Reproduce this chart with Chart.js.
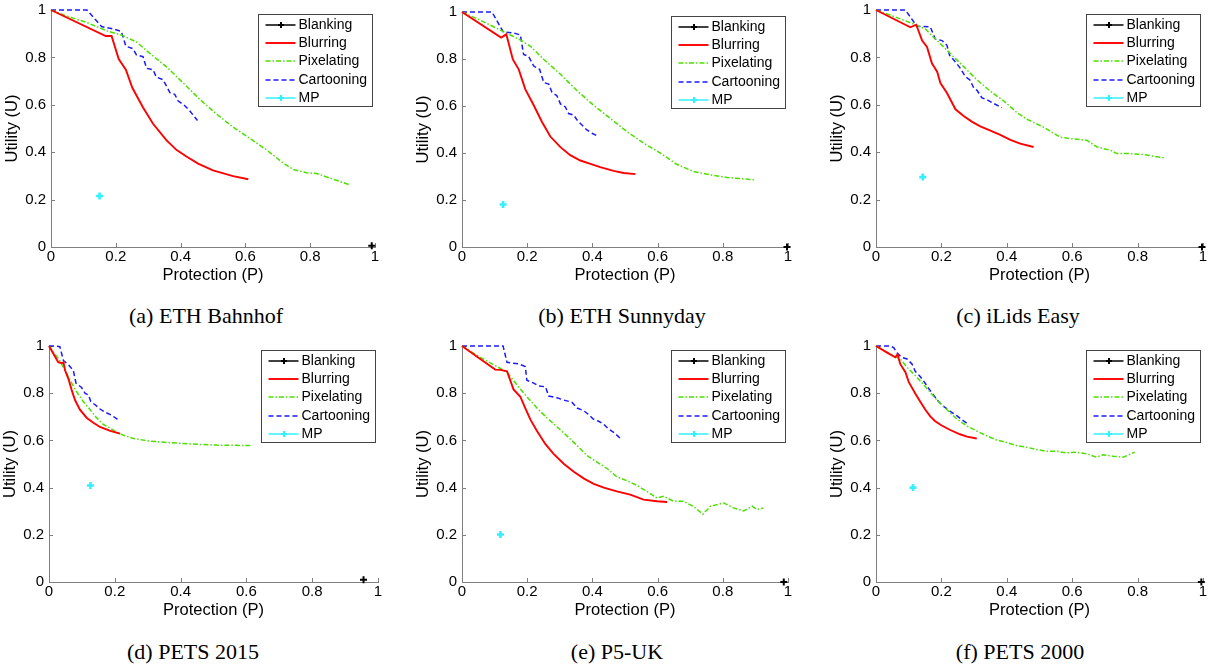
<!DOCTYPE html>
<html>
<head>
<meta charset="utf-8">
<title>Utility vs protection</title>
<script src="https://cdn.jsdelivr.net/npm/chart.js@4.4.1/dist/chart.umd.min.js"></script>
<style>
  html, body { margin: 0; padding: 0; background: #fff; }
  #fig { position: relative; width: 1214px; height: 670px; overflow: hidden; background: #fff; }
  #fig canvas { position: absolute; }
  .cap { position: absolute; font-family: "Liberation Serif", "Times New Roman", serif; font-size: 22px;
         line-height: 1; color: #000; white-space: nowrap; transform: translate(-50%, -50%); }
</style>
</head>
<body>
<div id="fig"></div>
<script>
// axis ticks, same on both axes of every plot
const tickValues = [0, 0.2, 0.4, 0.6, 0.8, 1];
const tickLabels = ['0', '0.2', '0.4', '0.6', '0.8', '1'];
const seriesNames = ['Blanking', 'Blurring', 'Pixelating', 'Cartooning', 'MP'];
const captions = ['(a) ETH Bahnhof', '(b) ETH Sunnyday', '(c) iLids Easy', '(d) PETS 2015', '(e) P5-UK', '(f) PETS 2000'];

// [protection P, utility U] pairs

// (a) ETH Bahnhof
const bahnhofBlanking = [[0.99, 0.005]];
const bahnhofBlurring = [[0, 1], [0.169, 0.890], [0.187, 0.890], [0.209, 0.793], [0.231, 0.748], [0.251, 0.672], [0.284, 0.589], [0.315, 0.520], [0.356, 0.451], [0.387, 0.410], [0.418, 0.382], [0.454, 0.352], [0.5, 0.323], [0.562, 0.299], [0.609, 0.286]];
const bahnhofPixelating = [[0, 1], [0.047, 0.975], [0.109, 0.948], [0.171, 0.913], [0.222, 0.892], [0.264, 0.865], [0.305, 0.817], [0.356, 0.761], [0.408, 0.692], [0.459, 0.623], [0.511, 0.561], [0.562, 0.506], [0.614, 0.458], [0.665, 0.41], [0.717, 0.354], [0.748, 0.327], [0.789, 0.313], [0.82, 0.31], [0.871, 0.286], [0.923, 0.262]];
const bahnhofCartooning = [[0, 1], [0.111, 1], [0.156, 0.93], [0.192, 0.92], [0.217, 0.91], [0.231, 0.847], [0.253, 0.837], [0.264, 0.81], [0.284, 0.803], [0.295, 0.754], [0.315, 0.748], [0.325, 0.717], [0.346, 0.706], [0.367, 0.651], [0.382, 0.644], [0.392, 0.617], [0.413, 0.596], [0.428, 0.575], [0.452, 0.534]];
const bahnhofMP = [[0.15, 0.215]];

// (b) ETH Sunnyday
const sunnydayBlanking = [[0.997, 0]];
const sunnydayBlurring = [[0, 1], [0.12, 0.891], [0.136, 0.905], [0.156, 0.798], [0.174, 0.756], [0.194, 0.672], [0.22, 0.603], [0.245, 0.533], [0.271, 0.47], [0.302, 0.425], [0.332, 0.391], [0.363, 0.368], [0.394, 0.354], [0.424, 0.34], [0.465, 0.324], [0.496, 0.315], [0.532, 0.31]];
const sunnydayPixelating = [[0, 1], [0.056, 0.965], [0.118, 0.923], [0.179, 0.881], [0.21, 0.854], [0.251, 0.798], [0.302, 0.735], [0.353, 0.665], [0.404, 0.603], [0.455, 0.547], [0.506, 0.491], [0.557, 0.442], [0.608, 0.4], [0.66, 0.351], [0.711, 0.321], [0.762, 0.307], [0.813, 0.296], [0.895, 0.286]];
const sunnydayCartooning = [[0, 1], [0.092, 1], [0.126, 0.916], [0.164, 0.909], [0.179, 0.902], [0.189, 0.819], [0.204, 0.812], [0.22, 0.77], [0.238, 0.756], [0.251, 0.7], [0.266, 0.693], [0.276, 0.658], [0.291, 0.644], [0.302, 0.609], [0.317, 0.596], [0.327, 0.568], [0.343, 0.561], [0.353, 0.54], [0.368, 0.519], [0.383, 0.498], [0.399, 0.484], [0.419, 0.47]];
const sunnydayMP = [[0.126, 0.181]];

// (c) iLids Easy
const ilidsBlanking = [[0.997, 0]];
const ilidsBlurring = [[0, 1], [0.105, 0.927], [0.123, 0.938], [0.141, 0.871], [0.156, 0.844], [0.171, 0.775], [0.187, 0.74], [0.197, 0.692], [0.217, 0.65], [0.243, 0.581], [0.268, 0.553], [0.294, 0.528], [0.319, 0.509], [0.35, 0.491], [0.38, 0.473], [0.411, 0.452], [0.441, 0.436], [0.482, 0.422]];
const ilidsPixelating = [[0, 1], [0.064, 0.968], [0.115, 0.941], [0.151, 0.92], [0.176, 0.885], [0.207, 0.844], [0.238, 0.802], [0.268, 0.761], [0.309, 0.705], [0.35, 0.657], [0.391, 0.616], [0.431, 0.567], [0.462, 0.539], [0.513, 0.505], [0.564, 0.463], [0.604, 0.456], [0.645, 0.45], [0.676, 0.422], [0.717, 0.408], [0.737, 0.394], [0.778, 0.394], [0.819, 0.39], [0.88, 0.376]];
const ilidsCartooning = [[0, 1], [0.09, 1], [0.125, 0.931], [0.166, 0.929], [0.181, 0.878], [0.202, 0.871], [0.217, 0.851], [0.225, 0.809], [0.243, 0.781], [0.258, 0.754], [0.273, 0.719], [0.287, 0.705], [0.299, 0.671], [0.309, 0.661], [0.324, 0.629], [0.339, 0.622], [0.355, 0.609], [0.385, 0.588]];
const ilidsMP = [[0.143, 0.295]];

// (d) PETS 2015
const pets15Blanking = [[0.956, 0.01]];
const pets15Blurring = [[0, 1], [0.028, 0.931], [0.039, 0.927], [0.044, 0.931], [0.049, 0.896], [0.059, 0.861], [0.069, 0.813], [0.079, 0.771], [0.094, 0.73], [0.115, 0.695], [0.135, 0.675], [0.155, 0.657], [0.186, 0.64], [0.216, 0.629]];
const pets15Pixelating = [[0, 1], [0.033, 0.938], [0.049, 0.896], [0.064, 0.855], [0.084, 0.806], [0.104, 0.765], [0.125, 0.73], [0.145, 0.695], [0.165, 0.668], [0.196, 0.643], [0.226, 0.622], [0.257, 0.608], [0.307, 0.597], [0.358, 0.591], [0.409, 0.587], [0.459, 0.583], [0.51, 0.58], [0.612, 0.578]];
const pets15Cartooning = [[0, 1], [0.018, 1], [0.033, 0.997], [0.044, 0.938], [0.059, 0.921], [0.074, 0.896], [0.082, 0.843], [0.099, 0.824], [0.11, 0.799], [0.12, 0.792], [0.127, 0.765], [0.14, 0.751], [0.155, 0.733], [0.17, 0.72], [0.191, 0.706], [0.211, 0.686]];
const pets15MP = [[0.126, 0.409]];

// (e) P5-UK
const p5ukBlanking = [[0.987, 0]];
const p5ukBlurring = [[0, 1], [0.056, 0.945], [0.102, 0.9], [0.118, 0.899], [0.138, 0.893], [0.158, 0.816], [0.179, 0.785], [0.194, 0.737], [0.21, 0.688], [0.23, 0.64], [0.256, 0.584], [0.281, 0.543], [0.312, 0.501], [0.343, 0.467], [0.373, 0.439], [0.404, 0.416], [0.435, 0.4], [0.475, 0.384], [0.516, 0.37], [0.557, 0.349], [0.598, 0.342], [0.629, 0.339]];
const p5ukPixelating = [[0, 1], [0.056, 0.952], [0.107, 0.913], [0.138, 0.889], [0.169, 0.834], [0.199, 0.785], [0.23, 0.737], [0.261, 0.695], [0.291, 0.658], [0.322, 0.619], [0.353, 0.578], [0.383, 0.536], [0.414, 0.508], [0.445, 0.481], [0.475, 0.446], [0.506, 0.429], [0.537, 0.409], [0.567, 0.384], [0.598, 0.356], [0.619, 0.363], [0.649, 0.342], [0.68, 0.342], [0.711, 0.319], [0.739, 0.287], [0.762, 0.321], [0.803, 0.335], [0.833, 0.314], [0.864, 0.301], [0.89, 0.321], [0.905, 0.307], [0.925, 0.314]];
const p5ukCartooning = [[0, 1], [0.126, 1], [0.138, 0.931], [0.174, 0.924], [0.194, 0.913], [0.199, 0.855], [0.22, 0.843], [0.235, 0.831], [0.256, 0.827], [0.266, 0.788], [0.291, 0.781], [0.312, 0.771], [0.337, 0.762], [0.353, 0.737], [0.373, 0.726], [0.389, 0.709], [0.402, 0.691], [0.419, 0.681], [0.435, 0.668], [0.45, 0.647], [0.467, 0.633], [0.488, 0.605]];
const p5ukMP = [[0.118, 0.201]];

// (f) PETS 2000
const pets00Blanking = [[0.995, 0]];
const pets00Blurring = [[0, 1], [0.034, 0.972], [0.059, 0.952], [0.066, 0.965], [0.074, 0.924], [0.09, 0.889], [0.1, 0.848], [0.12, 0.799], [0.135, 0.765], [0.151, 0.73], [0.166, 0.702], [0.181, 0.681], [0.201, 0.663], [0.227, 0.644], [0.257, 0.626], [0.278, 0.616], [0.308, 0.608]];
const pets00Pixelating = [[0, 1], [0.044, 0.965], [0.074, 0.945], [0.095, 0.91], [0.125, 0.868], [0.156, 0.82], [0.186, 0.771], [0.217, 0.73], [0.247, 0.691], [0.278, 0.661], [0.308, 0.64], [0.339, 0.619], [0.369, 0.602], [0.4, 0.591], [0.43, 0.578], [0.461, 0.571], [0.491, 0.561], [0.522, 0.554], [0.552, 0.554], [0.583, 0.547], [0.613, 0.55], [0.644, 0.543], [0.674, 0.529], [0.695, 0.539], [0.725, 0.533], [0.756, 0.529], [0.791, 0.55]];
const pets00Cartooning = [[0, 1], [0.044, 1], [0.054, 0.993], [0.066, 0.968], [0.079, 0.952], [0.095, 0.945], [0.11, 0.924], [0.12, 0.893], [0.135, 0.871], [0.151, 0.841], [0.161, 0.82], [0.176, 0.792], [0.191, 0.765], [0.207, 0.744], [0.227, 0.723], [0.247, 0.705], [0.262, 0.688], [0.283, 0.668]];
const pets00MP = [[0.113, 0.4]];

const panelData = [
    [bahnhofBlanking, bahnhofBlurring, bahnhofPixelating, bahnhofCartooning, bahnhofMP],
    [sunnydayBlanking, sunnydayBlurring, sunnydayPixelating, sunnydayCartooning, sunnydayMP],
    [ilidsBlanking, ilidsBlurring, ilidsPixelating, ilidsCartooning, ilidsMP],
    [pets15Blanking, pets15Blurring, pets15Pixelating, pets15Cartooning, pets15MP],
    [p5ukBlanking, p5ukBlurring, p5ukPixelating, p5ukCartooning, p5ukMP],
    [pets00Blanking, pets00Blurring, pets00Pixelating, pets00Cartooning, pets00MP]
];

// where each plot sits on the page: axes box [left, right, top, bottom], caption centre [x, y]
var plotBoxes = [
    [51, 375, 6, 247], [462, 788, 8, 247], [876, 1203, 6, 247],
    [49, 378, 342, 582], [462, 788, 342, 582], [876, 1203, 342, 582]
];
var captionCentres = [[206, 316], [622, 316], [1018, 316], [193, 652], [617, 652], [1020, 652]];

// line look for each series
var seriesStyle = [
    { color: '#000000', width: 1.5, dash: [], marker: 3 },
    { color: '#ff0000', width: 1.9, dash: [], marker: 0 },
    { color: '#4ce000', width: 1.5, dash: [5, 2, 1.5, 2], marker: 0 },
    { color: '#1a1aff', width: 1.5, dash: [5, 3], marker: 0 },
    { color: '#33f0ff', width: 1.5, dash: [], marker: 3 }
];

Chart.defaults.font.family = '"Liberation Sans", Arial, sans-serif';
Chart.defaults.color = '#000';

var axisGrey = '#7f7f7f';

// matlab style tick marks pointing into the plot
var innerTicks = {
    id: 'innerTicks',
    beforeDatasetsDraw: function(chart) {
        var ctx = chart.ctx, a = chart.chartArea;
        var xs = chart.scales.x, ys = chart.scales.y;
        ctx.save();
        ctx.strokeStyle = axisGrey;
        ctx.lineWidth = 1;
        ctx.beginPath();
        tickValues.forEach(function(v) {
            var px = Math.round(xs.getPixelForValue(v)) + 0.5;
            ctx.moveTo(px, a.bottom);
            ctx.lineTo(px, a.bottom - 4);
            var py = Math.round(ys.getPixelForValue(v)) + 0.5;
            ctx.moveTo(a.left, py);
            ctx.lineTo(a.left + 4, py);
        });
        ctx.stroke();
        ctx.restore();
    }
};

function drawPlus(ctx, x, y, r, w, color) {
    ctx.save();
    ctx.setLineDash([]);
    ctx.strokeStyle = color;
    ctx.lineWidth = w;
    ctx.beginPath();
    ctx.moveTo(x - r, y); ctx.lineTo(x + r, y);
    ctx.moveTo(x, y - r); ctx.lineTo(x, y + r);
    ctx.stroke();
    ctx.restore();
}

// boxed legend in the top right corner of the axes
var boxLegend = {
    id: 'boxLegend',
    afterDatasetsDraw: function(chart) {
        var ctx = chart.ctx, a = chart.chartArea;
        var w = 114, h = 92;
        var x0 = Math.round(a.right - w - 3) + 0.5;
        var y0 = Math.round(a.top + 4) + 0.5;
        ctx.save();
        ctx.fillStyle = '#fff';
        ctx.fillRect(x0, y0, w, h);
        ctx.strokeStyle = '#444';
        ctx.lineWidth = 1;
        ctx.strokeRect(x0, y0, w, h);
        ctx.font = '14px "Liberation Sans", Arial, sans-serif';
        ctx.textBaseline = 'middle';
        chart.data.datasets.forEach(function(ds, i) {
            var st = seriesStyle[i];
            var y = Math.round(y0 + 10.5 + i * 18.2);
            ctx.strokeStyle = st.color;
            ctx.lineWidth = st.width;
            ctx.setLineDash(st.dash);
            ctx.beginPath();
            ctx.moveTo(x0 + 7, y);
            ctx.lineTo(x0 + 37, y);
            ctx.stroke();
            if (st.marker) drawPlus(ctx, x0 + 22.5, y, st.marker, 2, st.color);
            ctx.fillStyle = '#000';
            ctx.fillText(ds.label, x0 + 40, y + 0.5);
        });
        ctx.restore();
    }
};

function toXY(pairs) {
    return pairs.map(function(p) { return { x: p[0], y: p[1] }; });
}

var fig = document.getElementById('fig');

function makePanel(k) {
    var box = plotBoxes[k];
    var L = box[0], R = box[1], T = box[2], B = box[3];
    var yAxisW = 50, xAxisH = 38;
    var cx = L - yAxisW, cy = T - 10;
    var cw = R - cx + 12, ch = B - cy + xAxisH + 4;

    var cv = document.createElement('canvas');
    cv.width = cw;
    cv.height = ch;
    cv.style.left = cx + 'px';
    cv.style.top = cy + 'px';
    fig.appendChild(cv);

    var datasets = panelData[k].map(function(series, i) {
        var st = seriesStyle[i];
        var single = series.length === 1;
        return {
            label: seriesNames[i],
            data: toXY(series),
            showLine: !single,
            borderColor: st.color,
            backgroundColor: st.color,
            borderWidth: st.width,
            borderDash: st.dash,
            pointRadius: single ? 3.5 : 0,
            pointStyle: 'cross',
            pointBorderColor: st.color,
            pointBorderWidth: i === 4 ? 2.6 : 2,
            tension: 0
        };
    });

    var tickOpts = function(pad) {
        return {
            padding: pad,
            color: '#000',
            font: { size: 15 },
            autoSkip: false,
            maxRotation: 0,
            callback: function(v, i) { return tickLabels[i]; }
        };
    };

    new Chart(cv, {
        type: 'scatter',
        data: { datasets: datasets },
        options: {
            responsive: false,
            animation: false,
            events: [],
            clip: false,
            layout: { padding: { left: 0, top: T - cy, right: cx + cw - R, bottom: ch - (B - cy) - xAxisH } },
            plugins: { legend: { display: false }, tooltip: { enabled: false } },
            scales: {
                x: {
                    type: 'linear', min: 0, max: 1,
                    afterBuildTicks: function(s) { s.ticks = tickValues.map(function(v) { return { value: v }; }); },
                    afterFit: function(s) { s.height = xAxisH; },
                    grid: { display: false, drawTicks: false },
                    border: { display: true, color: axisGrey, width: 1 },
                    ticks: tickOpts(1),
                    title: { display: true, text: 'Protection (P)', color: '#000', font: { size: 16.5 }, padding: 0 }
                },
                y: {
                    type: 'linear', min: 0, max: 1,
                    afterBuildTicks: function(s) { s.ticks = tickValues.map(function(v) { return { value: v }; }); },
                    afterFit: function(s) { s.width = yAxisW; },
                    grid: { display: false, drawTicks: false },
                    border: { display: true, color: axisGrey, width: 1 },
                    ticks: tickOpts(5),
                    title: { display: true, text: 'Utility (U)', color: '#000', font: { size: 16.5 }, padding: { top: 2, bottom: 0 } }
                }
            }
        },
        plugins: [innerTicks, boxLegend]
    });

    var cap = document.createElement('div');
    cap.className = 'cap';
    cap.textContent = captions[k];
    cap.style.left = captionCentres[k][0] + 'px';
    cap.style.top = captionCentres[k][1] + 'px';
    fig.appendChild(cap);
}

for (var k = 0; k < plotBoxes.length; k++) {
    makePanel(k);
}
</script>
</body>
</html>
